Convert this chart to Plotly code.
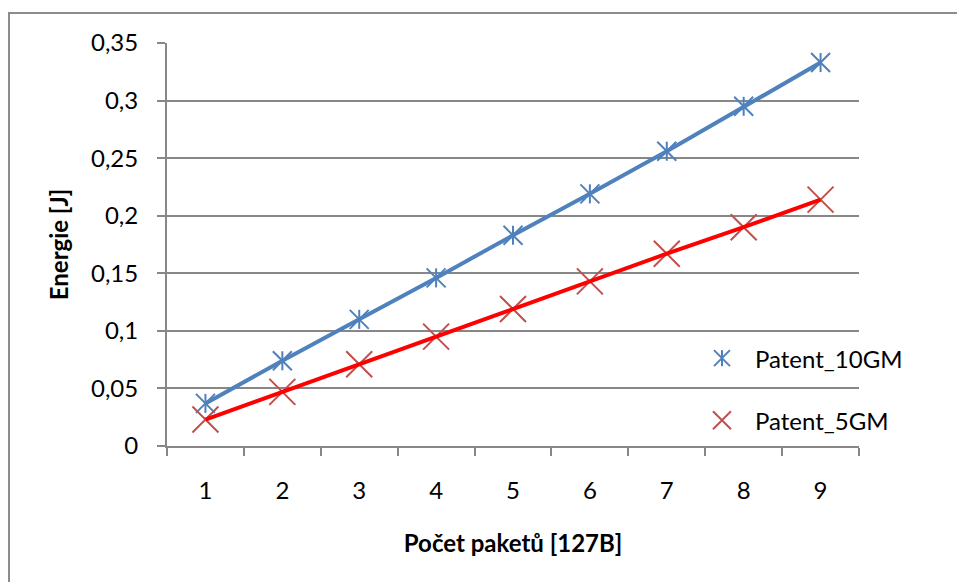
import plotly.graph_objects as go

# Number of packets (127 B each)
packets = ["1", "2", "3", "4", "5", "6", "7", "8", "9"]
# Energy in joules
patent_10gm = [0.037, 0.074, 0.110, 0.146, 0.183, 0.219, 0.256, 0.295, 0.333]
patent_5gm = [0.023, 0.047, 0.071, 0.095, 0.119, 0.143, 0.167, 0.190, 0.214]

series_names = ["Patent_10GM", "Patent_5GM"]
y_ticks = [0, 0.05, 0.1, 0.15, 0.2, 0.25, 0.3, 0.35]

BLUE = "#4F81BD"
RED_LINE = "#FF0000"
RED_MARK = "#C0504D"
GRID = "#878787"
FONT = "Lato, Open Sans, sans-serif"


def open_marker(symbol, size, color):
    return dict(symbol=symbol, size=size, color=color, line=dict(color=color, width=2))


fig = go.Figure()

# Patent_10GM: line plus asterisk markers (X with a vertical bar)
fig.add_trace(go.Scatter(x=packets, y=patent_10gm, mode="lines",
                         line=dict(color=BLUE, width=4), showlegend=False))
fig.add_trace(go.Scatter(x=packets, y=patent_10gm, mode="markers",
                         marker=open_marker("x-thin-open", 19, BLUE),
                         showlegend=False))
fig.add_trace(go.Scatter(x=packets, y=patent_10gm, mode="markers",
                         marker=open_marker("line-ns-open", 13.6, BLUE),
                         showlegend=False))

# Patent_5GM: line plus X markers
fig.add_trace(go.Scatter(x=packets, y=patent_5gm, mode="markers",
                         marker=open_marker("x-thin-open", 26, RED_MARK),
                         showlegend=False))
fig.add_trace(go.Scatter(x=packets, y=patent_5gm, mode="lines",
                         line=dict(color=RED_LINE, width=4), showlegend=False))

# Legend keys drawn on a small overlay axis
leg_x = [0.802, 0.802]
leg_y = [0.218, 0.064]
fig.add_trace(go.Scatter(x=[leg_x[0]], y=[leg_y[0]], xaxis="x2", yaxis="y2",
                         mode="markers", showlegend=False,
                         marker=open_marker("x-thin-open", 16, BLUE)))
fig.add_trace(go.Scatter(x=[leg_x[0]], y=[leg_y[0]], xaxis="x2", yaxis="y2",
                         mode="markers", showlegend=False,
                         marker=open_marker("line-ns-open", 11.5, BLUE)))
fig.add_trace(go.Scatter(x=[leg_x[1]], y=[leg_y[1]], xaxis="x2", yaxis="y2",
                         mode="markers", showlegend=False,
                         marker=open_marker("x-thin-open", 18, RED_MARK)))
for name, ly in zip(series_names, leg_y):
    fig.add_annotation(x=0.847, y=ly, xref="x2", yref="y2", text=name,
                       showarrow=False, xanchor="left", yanchor="middle",
                       font=dict(family=FONT, size=24, color="#000000"))

fig.update_layout(
    width=957, height=582,
    margin=dict(l=167, r=98, t=43, b=136),
    paper_bgcolor="white", plot_bgcolor="white",
    separators=", ",
    font=dict(family=FONT, size=24, color="#000000"),
    showlegend=False,
    xaxis=dict(
        type="category", tickson="boundaries", range=[-0.5, 8.5],
        ticks="outside", ticklen=8, tickwidth=2, tickcolor=GRID,
        showline=True, linecolor=GRID, linewidth=2,
        showgrid=False, zeroline=False,
        ticklabelstandoff=22,
        title=dict(text="<b>Počet paketů [127B]</b>", standoff=32,
                   font=dict(family=FONT, size=24)),
    ),
    yaxis=dict(
        range=[0, 0.35], tickvals=y_ticks,
        ticks="outside", ticklen=8, tickwidth=2, tickcolor=GRID,
        showline=True, linecolor=GRID, linewidth=2,
        showgrid=True, gridcolor=GRID, gridwidth=2, zeroline=False,
        ticklabelstandoff=14,
        title=dict(text="<b>Energie [J]</b>", standoff=16,
                   font=dict(family=FONT, size=24)),
    ),
    xaxis2=dict(domain=[0, 1], range=[0, 1], overlaying="x", anchor="y2",
                visible=False, fixedrange=True),
    yaxis2=dict(domain=[0, 1], range=[0, 1], overlaying="y", anchor="x2",
                visible=False, fixedrange=True),
    shapes=[
        # chart frame (runs off the right and bottom edges)
        dict(type="rect", xref="paper", yref="paper",
             x0=-0.2283, x1=1.2, y0=-0.4, y1=1.0744,
             line=dict(color="#8C8C8C", width=2), layer="below"),
    ],
)

fig.write_html("out.html")
